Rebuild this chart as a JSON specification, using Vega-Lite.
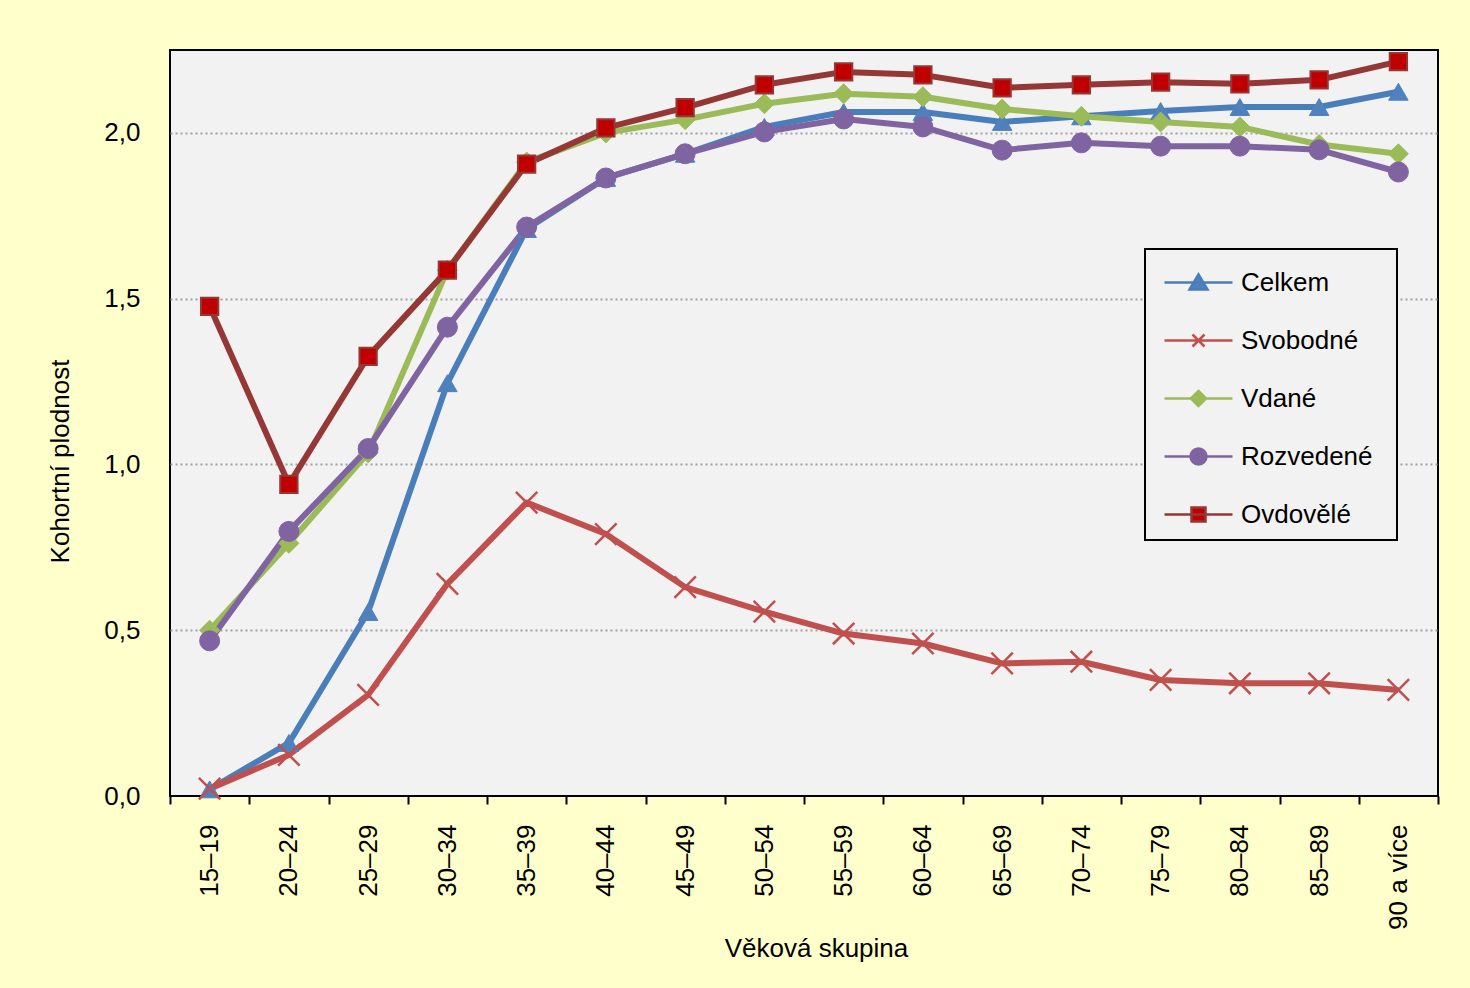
{
  "$schema": "https://vega.github.io/schema/vega-lite/v6.json",
  "width": 1268,
  "height": 746,
  "autosize": {"type": "none"},
  "padding": {"left": 170, "top": 50, "right": 32, "bottom": 192},
  "background": "#FFFFCC",
  "config": {
    "font": "Liberation Sans",
    "view": {"fill": "#F2F2F2", "stroke": "black", "strokeWidth": 2},
    "axis": {"labelFont": "Liberation Sans", "titleFont": "Liberation Sans", "labelColor": "black", "titleColor": "black", "titleFontWeight": "normal"}
  },
  "data": {
    "values": [
      {"age": "15–19", "series": "Celkem", "value": 0.02},
      {"age": "20–24", "series": "Celkem", "value": 0.16},
      {"age": "25–29", "series": "Celkem", "value": 0.555},
      {"age": "30–34", "series": "Celkem", "value": 1.245},
      {"age": "35–39", "series": "Celkem", "value": 1.71},
      {"age": "40–44", "series": "Celkem", "value": 1.864},
      {"age": "45–49", "series": "Celkem", "value": 1.937},
      {"age": "50–54", "series": "Celkem", "value": 2.018},
      {"age": "55–59", "series": "Celkem", "value": 2.063},
      {"age": "60–64", "series": "Celkem", "value": 2.063},
      {"age": "65–69", "series": "Celkem", "value": 2.033},
      {"age": "70–74", "series": "Celkem", "value": 2.05},
      {"age": "75–79", "series": "Celkem", "value": 2.066},
      {"age": "80–84", "series": "Celkem", "value": 2.078},
      {"age": "85–89", "series": "Celkem", "value": 2.078},
      {"age": "90 a více", "series": "Celkem", "value": 2.124},
      {"age": "15–19", "series": "Svobodné", "value": 0.022},
      {"age": "20–24", "series": "Svobodné", "value": 0.124},
      {"age": "25–29", "series": "Svobodné", "value": 0.305},
      {"age": "30–34", "series": "Svobodné", "value": 0.64},
      {"age": "35–39", "series": "Svobodné", "value": 0.885},
      {"age": "40–44", "series": "Svobodné", "value": 0.79},
      {"age": "45–49", "series": "Svobodné", "value": 0.63},
      {"age": "50–54", "series": "Svobodné", "value": 0.556},
      {"age": "55–59", "series": "Svobodné", "value": 0.49},
      {"age": "60–64", "series": "Svobodné", "value": 0.46},
      {"age": "65–69", "series": "Svobodné", "value": 0.4},
      {"age": "70–74", "series": "Svobodné", "value": 0.405},
      {"age": "75–79", "series": "Svobodné", "value": 0.35},
      {"age": "80–84", "series": "Svobodné", "value": 0.34},
      {"age": "85–89", "series": "Svobodné", "value": 0.34},
      {"age": "90 a více", "series": "Svobodné", "value": 0.32},
      {"age": "15–19", "series": "Vdané", "value": 0.5},
      {"age": "20–24", "series": "Vdané", "value": 0.762},
      {"age": "25–29", "series": "Vdané", "value": 1.035},
      {"age": "30–34", "series": "Vdané", "value": 1.586},
      {"age": "35–39", "series": "Vdané", "value": 1.912},
      {"age": "40–44", "series": "Vdané", "value": 2.0},
      {"age": "45–49", "series": "Vdané", "value": 2.04},
      {"age": "50–54", "series": "Vdané", "value": 2.088},
      {"age": "55–59", "series": "Vdané", "value": 2.118},
      {"age": "60–64", "series": "Vdané", "value": 2.109},
      {"age": "65–69", "series": "Vdané", "value": 2.072},
      {"age": "70–74", "series": "Vdané", "value": 2.05},
      {"age": "75–79", "series": "Vdané", "value": 2.033},
      {"age": "80–84", "series": "Vdané", "value": 2.018},
      {"age": "85–89", "series": "Vdané", "value": 1.965},
      {"age": "90 a více", "series": "Vdané", "value": 1.937},
      {"age": "15–19", "series": "Rozvedené", "value": 0.468},
      {"age": "20–24", "series": "Rozvedené", "value": 0.798},
      {"age": "25–29", "series": "Rozvedené", "value": 1.048},
      {"age": "30–34", "series": "Rozvedené", "value": 1.414},
      {"age": "35–39", "series": "Rozvedené", "value": 1.716},
      {"age": "40–44", "series": "Rozvedené", "value": 1.864},
      {"age": "45–49", "series": "Rozvedené", "value": 1.937},
      {"age": "50–54", "series": "Rozvedené", "value": 2.003},
      {"age": "55–59", "series": "Rozvedené", "value": 2.042},
      {"age": "60–64", "series": "Rozvedené", "value": 2.018},
      {"age": "65–69", "series": "Rozvedené", "value": 1.948},
      {"age": "70–74", "series": "Rozvedené", "value": 1.97},
      {"age": "75–79", "series": "Rozvedené", "value": 1.96},
      {"age": "80–84", "series": "Rozvedené", "value": 1.96},
      {"age": "85–89", "series": "Rozvedené", "value": 1.949},
      {"age": "90 a více", "series": "Rozvedené", "value": 1.882},
      {"age": "15–19", "series": "Ovdovělé", "value": 1.477},
      {"age": "20–24", "series": "Ovdovělé", "value": 0.94},
      {"age": "25–29", "series": "Ovdovělé", "value": 1.326},
      {"age": "30–34", "series": "Ovdovělé", "value": 1.586},
      {"age": "35–39", "series": "Ovdovělé", "value": 1.906},
      {"age": "40–44", "series": "Ovdovělé", "value": 2.015},
      {"age": "45–49", "series": "Ovdovělé", "value": 2.076},
      {"age": "50–54", "series": "Ovdovělé", "value": 2.145},
      {"age": "55–59", "series": "Ovdovělé", "value": 2.184},
      {"age": "60–64", "series": "Ovdovělé", "value": 2.175},
      {"age": "65–69", "series": "Ovdovělé", "value": 2.136},
      {"age": "70–74", "series": "Ovdovělé", "value": 2.145},
      {"age": "75–79", "series": "Ovdovělé", "value": 2.153},
      {"age": "80–84", "series": "Ovdovělé", "value": 2.148},
      {"age": "85–89", "series": "Ovdovělé", "value": 2.16},
      {"age": "90 a více", "series": "Ovdovělé", "value": 2.215}
    ]
  },
  "encoding": {
    "x": {
      "field": "age", "type": "nominal", "sort": null, "bandPosition": 0.5,
      "scale": {"type": "band", "paddingInner": 0, "paddingOuter": 0},
      "axis": {
        "title": "Věková skupina", "labelAngle": 270, "labelFontSize": 26, "titleFontSize": 26,
        "domain": false, "ticks": true, "tickBand": "extent", "tickColor": "black", "tickWidth": 2, "tickSize": 8,
        "labelPadding": 20, "titlePadding": 6, "grid": false, "titleX": 646
      }
    },
    "y": {
      "field": "value", "type": "quantitative",
      "scale": {"domain": [0, 2.25], "nice": false},
      "axis": {
        "title": "Kohortní plodnost", "values": [0, 0.5, 1, 1.5, 2],
        "labelExpr": "replace(format(datum.value, '.1f'), '.', ',')",
        "labelFontSize": 26, "titleFontSize": 26, "domain": false, "ticks": false,
        "labelPadding": 30, "titlePadding": 30, "titleY": 411,
        "grid": true, "gridColor": "#A0A0A0", "gridWidth": 2, "gridDash": [2, 3],
        "gridOpacity": {"condition": {"test": "datum.value === 0", "value": 0}, "value": 1}
      }
    }
  },
  "layer": [
    {
      "mark": {"type": "line", "strokeWidth": 6, "strokeJoin": "round"},
      "encoding": {
        "color": {
          "field": "series", "type": "nominal",
          "scale": {
            "domain": ["Celkem", "Svobodné", "Vdané", "Rozvedené", "Ovdovělé"],
            "range": ["#4A7EBB", "#C0504D", "#9BBB59", "#8064A2", "#953735"]
          },
          "legend": {
            "orient": "none", "legendX": 975, "legendY": 199, "title": null,
            "padding": 12, "rowPadding": 23, "labelFontSize": 26, "labelFont": "Liberation Sans",
            "labelColor": "black", "labelOffset": 41, "symbolSize": 1600, "labelLimit": 400,
            "fillColor": "#F2F2F2", "strokeColor": "black",
            "encode": {
              "legend": {"update": {"strokeWidth": {"value": 2}}},
              "symbols": {
                "update": {
                  "shape": {"signal": "datum.value === 'Celkem' ? 'M-0.7,0H2.7M1,-0.4L1.45,0.35L0.55,0.35ZM10.05,0' : datum.value === 'Svobodné' ? 'M-0.7,0H2.7M0.7,-0.3L1.3,0.3M0.7,0.3L1.3,-0.3M10.05,0' : datum.value === 'Vdané' ? 'M-0.7,0H2.7M1,-0.38L1.38,0L1,0.38L0.62,0ZM10.05,0' : datum.value === 'Rozvedené' ? 'M-0.7,0H2.7M0.6,0A0.4,0.4 0 1,0 1.4,0A0.4,0.4 0 1,0 0.6,0ZM10.05,0' : 'M-0.7,0H2.7M0.65,-0.35H1.35V0.35H0.65ZM10.05,0'"},
                  "fill": {"signal": "datum.value === 'Celkem' ? '#4F81BD' : datum.value === 'Svobodné' ? 'transparent' : datum.value === 'Vdané' ? '#9BBB59' : datum.value === 'Rozvedené' ? '#8064A2' : '#C00000'"},
                  "stroke": {"signal": "datum.value === 'Celkem' ? '#4A7EBB' : datum.value === 'Svobodné' ? '#C0504D' : datum.value === 'Vdané' ? '#9BBB59' : datum.value === 'Rozvedené' ? '#8064A2' : '#953735'"},
                  "strokeWidth": {"value": 2.5},
                  "size": {"value": 1600},
                  "opacity": {"value": 1}
                }
              }
            }
          }
        }
      }
    },
    {
      "transform": [{"filter": "datum.series === 'Celkem'"}],
      "mark": {"type": "point", "shape": "triangle-up", "filled": true, "fill": "#4F81BD", "stroke": "#4F81BD", "size": 380, "strokeWidth": 1, "opacity": 1}
    },
    {
      "transform": [{"filter": "datum.series === 'Svobodné'"}],
      "mark": {"type": "point", "shape": "M-1.1,-1.1L1.1,1.1M-1.1,1.1L1.1,-1.1", "filled": false, "fill": "transparent", "stroke": "#C0504D", "size": 380, "strokeWidth": 2.5, "opacity": 1}
    },
    {
      "transform": [{"filter": "datum.series === 'Vdané'"}],
      "mark": {"type": "point", "shape": "diamond", "filled": true, "fill": "#9BBB59", "stroke": "#9BBB59", "size": 400, "strokeWidth": 1, "opacity": 1}
    },
    {
      "transform": [{"filter": "datum.series === 'Rozvedené'"}],
      "mark": {"type": "point", "shape": "circle", "filled": true, "fill": "#8064A2", "stroke": "#8064A2", "size": 400, "strokeWidth": 1, "opacity": 1}
    },
    {
      "transform": [{"filter": "datum.series === 'Ovdovělé'"}],
      "mark": {"type": "point", "shape": "square", "filled": true, "fill": "#C00000", "stroke": "#953735", "size": 300, "strokeWidth": 2, "opacity": 1}
    }
  ]
}
